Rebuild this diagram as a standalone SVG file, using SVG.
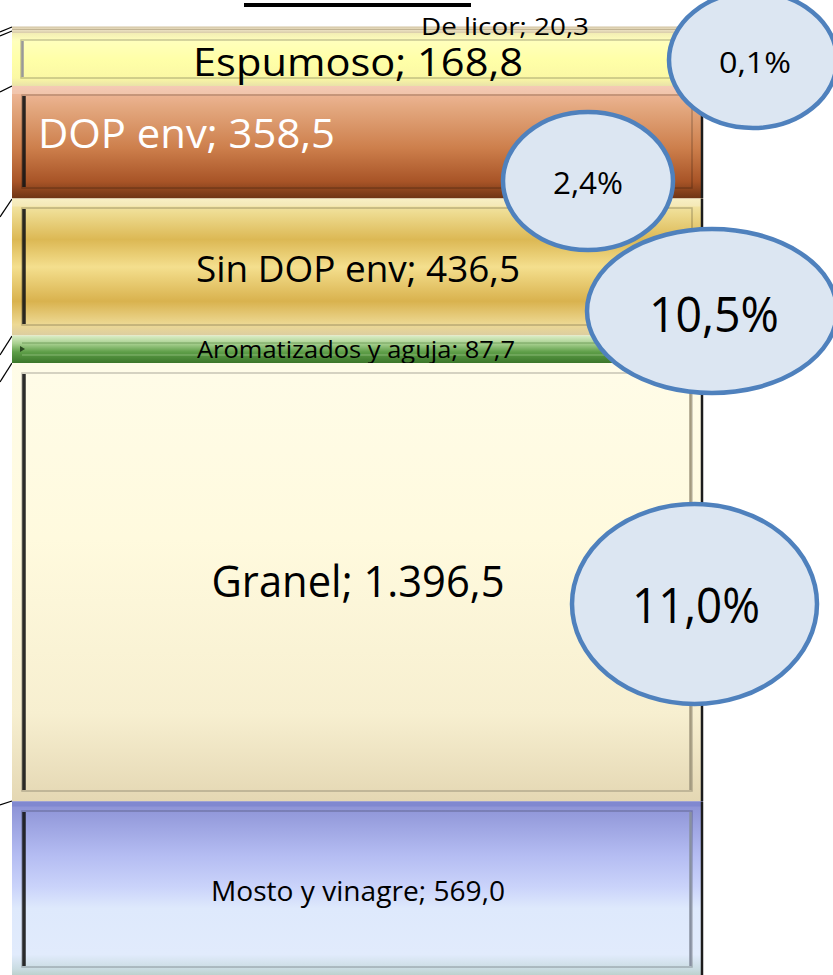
<svg xmlns="http://www.w3.org/2000/svg" width="833" height="975" viewBox="0 0 833 975">
<defs>
<linearGradient id="gLic" x1="0" y1="0" x2="0" y2="1"><stop offset="0" stop-color="#D2C3A2"/><stop offset="0.5" stop-color="#EDE3C4"/><stop offset="1" stop-color="#D9CCAA"/></linearGradient>
<linearGradient id="gEsp" x1="0" y1="0" x2="0" y2="1"><stop offset="0" stop-color="#F2EDB4"/><stop offset="0.15" stop-color="#FFFFBC"/><stop offset="0.5" stop-color="#FFFFA8"/><stop offset="0.85" stop-color="#FBF8A4"/><stop offset="1" stop-color="#E9E2A8"/></linearGradient>
<linearGradient id="gDop" x1="0" y1="0" x2="0" y2="1"><stop offset="0" stop-color="#F2BCA0"/><stop offset="0.2" stop-color="#E3A77E"/><stop offset="0.55" stop-color="#CD7F4C"/><stop offset="0.85" stop-color="#A85427"/><stop offset="1" stop-color="#6E3414"/></linearGradient>
<linearGradient id="gSin" x1="0" y1="0" x2="0" y2="1"><stop offset="0" stop-color="#F6EBB6"/><stop offset="0.1" stop-color="#EEDC92"/><stop offset="0.3" stop-color="#DCB854"/><stop offset="0.5" stop-color="#F4DF8E"/><stop offset="0.75" stop-color="#D9B24E"/><stop offset="0.92" stop-color="#EDD994"/><stop offset="1" stop-color="#DCCDA0"/></linearGradient>
<linearGradient id="gAro" x1="0" y1="0" x2="0" y2="1"><stop offset="0" stop-color="#DCEEC8"/><stop offset="0.3" stop-color="#A6CF8E"/><stop offset="0.6" stop-color="#5E9E48"/><stop offset="1" stop-color="#3B772A"/></linearGradient>
<linearGradient id="gGra" x1="0" y1="0" x2="0" y2="1"><stop offset="0" stop-color="#FFFCE8"/><stop offset="0.4" stop-color="#FFFADE"/><stop offset="0.8" stop-color="#F7EFD0"/><stop offset="1" stop-color="#E4D7B3"/></linearGradient>
<linearGradient id="gMos" x1="0" y1="0" x2="0" y2="1"><stop offset="0" stop-color="#8A90D4"/><stop offset="0.3" stop-color="#B4BCF2"/><stop offset="0.48" stop-color="#CAD3FA"/><stop offset="0.6" stop-color="#DEE9FC"/><stop offset="0.86" stop-color="#E1EBFC"/><stop offset="0.94" stop-color="#CADCE2"/><stop offset="1" stop-color="#B2C9BE"/></linearGradient>
</defs>
<style>
.inner{fill:none;stroke:#000;stroke-opacity:0.22;stroke-width:1.5}
.hl{fill:#fff;opacity:0.22}
.ledge{stroke:#151515;stroke-width:3.5;stroke-opacity:0.9}
.redge{stroke:#1c1c1c;stroke-width:2.5}
.conn{stroke:#000;stroke-width:1.3;fill:none}
.bub{fill:#DCE6F2;stroke:#4F81BD;stroke-width:4.5}
.t{font-family:"Open Sans","Liberation Sans",Arial,sans-serif;fill:#000;text-anchor:middle}
</style>

<rect x="244" y="3" width="227" height="4" fill="#000"/>

<g id="connectors">
<line class="conn" x1="0" y1="32" x2="12" y2="27"/>
<line class="conn" x1="0" y1="36" x2="12" y2="31"/>
<line class="conn" x1="0" y1="92" x2="12" y2="86"/>
<line class="conn" x1="0" y1="217" x2="12" y2="199"/>
<line class="conn" x1="0" y1="355" x2="12" y2="336"/>
<line class="conn" x1="0" y1="382" x2="12" y2="363"/>
<line class="conn" x1="0" y1="805" x2="12" y2="801"/>
</g>

<g id="bar-delicor">
<rect x="12" y="26.5" width="691" height="6.5" fill="url(#gLic)"/>
<line x1="12" y1="29.5" x2="703" y2="29.5" stroke="#B8A888" stroke-width="0.8"/>
</g>

<g id="bar-espumoso">
<rect x="12" y="33" width="691" height="53" fill="url(#gEsp)"/>
<rect class="inner" x="21" y="40" width="671" height="38" stroke-opacity="0.15"/>
<line x1="22.5" y1="41" x2="22.5" y2="77" stroke="#999" stroke-width="2.5"/>
<text class="t" x="358" y="76" font-size="39" textLength="330" lengthAdjust="spacingAndGlyphs">Espumoso; 168,8</text>
</g>

<g id="bar-dop">
<rect x="12" y="86" width="691" height="112.5" fill="url(#gDop)"/>
<rect class="hl" x="12" y="86" width="691" height="8"/>
<rect class="inner" x="22" y="95" width="670" height="93" stroke-opacity="0.35"/>
<line class="ledge" x1="24" y1="96" x2="24" y2="187"/>
<line class="redge" x1="702" y1="86" x2="702" y2="198"/>
<text class="t" x="38" y="148" font-size="41" style="fill:#fff;text-anchor:start" textLength="297" lengthAdjust="spacingAndGlyphs">DOP env; 358,5</text>
</g>

<g id="bar-sindop">
<rect x="12" y="198.5" width="691" height="137" fill="url(#gSin)"/>
<rect class="hl" x="12" y="198.5" width="691" height="8"/>
<rect class="inner" x="22" y="208" width="670" height="117"/>
<line class="ledge" x1="24" y1="209" x2="24" y2="324"/>
<line class="redge" x1="702" y1="198.5" x2="702" y2="335"/>
<text class="t" x="358" y="282" font-size="36" textLength="324" lengthAdjust="spacingAndGlyphs">Sin DOP env; 436,5</text>
</g>

<g id="bar-aromatizados">
<rect x="12" y="335.5" width="691" height="27.5" fill="url(#gAro)"/>
<line x1="22" y1="343" x2="692" y2="343" stroke="#4F7F3A" stroke-width="1" stroke-opacity="0.6"/>
<line x1="22" y1="355" x2="692" y2="355" stroke="#9CC88A" stroke-width="1" stroke-opacity="0.7"/>
<path d="M20 346 L25 349 L20 352 Z" fill="#2a4a20"/>
<text class="t" x="356" y="358" font-size="23" textLength="318" lengthAdjust="spacingAndGlyphs">Aromatizados y aguja; 87,7</text>
</g>

<g id="bar-granel">
<rect x="12" y="363" width="691" height="438.5" fill="url(#gGra)"/>
<rect class="inner" x="22" y="373" width="670" height="418"/>
<line class="ledge" x1="24" y1="374" x2="24" y2="790"/>
<line x1="690.5" y1="374" x2="690.5" y2="790" stroke="#A39A80" stroke-width="2.5"/>
<line class="redge" x1="702" y1="363" x2="702" y2="801"/>
<text class="t" x="358" y="597" font-size="44" textLength="293" lengthAdjust="spacingAndGlyphs">Granel; 1.396,5</text>
</g>

<g id="bar-mosto">
<rect x="12" y="801.5" width="691" height="178" fill="url(#gMos)"/>
<rect x="12" y="801.5" width="691" height="5" fill="#8088D0"/>
<rect class="inner" x="22" y="811" width="670" height="156"/>
<line class="ledge" x1="24" y1="812" x2="24" y2="966"/>
<line x1="690.5" y1="812" x2="690.5" y2="966" stroke="#8890A0" stroke-width="2.5"/>
<line class="redge" x1="702" y1="801.5" x2="702" y2="975"/>
<text class="t" x="358" y="901" font-size="27" textLength="294" lengthAdjust="spacingAndGlyphs">Mosto y vinagre; 569,0</text>
</g>

<g id="label-delicor">
<text class="t" x="505" y="35" font-size="24" textLength="168" lengthAdjust="spacingAndGlyphs">De licor; 20,3</text>
</g>

<g id="bubble-01">
<ellipse class="bub" cx="753" cy="60" rx="84" ry="68"/>
<text class="t" x="755" y="73" font-size="30" textLength="72" lengthAdjust="spacingAndGlyphs">0,1%</text>
</g>
<g id="bubble-24">
<ellipse class="bub" cx="588" cy="181" rx="85" ry="69"/>
<text class="t" x="588" y="194" font-size="31" textLength="70" lengthAdjust="spacingAndGlyphs">2,4%</text>
</g>
<g id="bubble-105">
<ellipse class="bub" cx="712" cy="311" rx="125" ry="82"/>
<text class="t" x="714" y="332" font-size="49" textLength="130" lengthAdjust="spacingAndGlyphs">10,5%</text>
</g>
<g id="bubble-110">
<ellipse class="bub" cx="694.5" cy="604" rx="122.5" ry="100"/>
<text class="t" x="696" y="623" font-size="49" textLength="128" lengthAdjust="spacingAndGlyphs">11,0%</text>
</g>
</svg>
